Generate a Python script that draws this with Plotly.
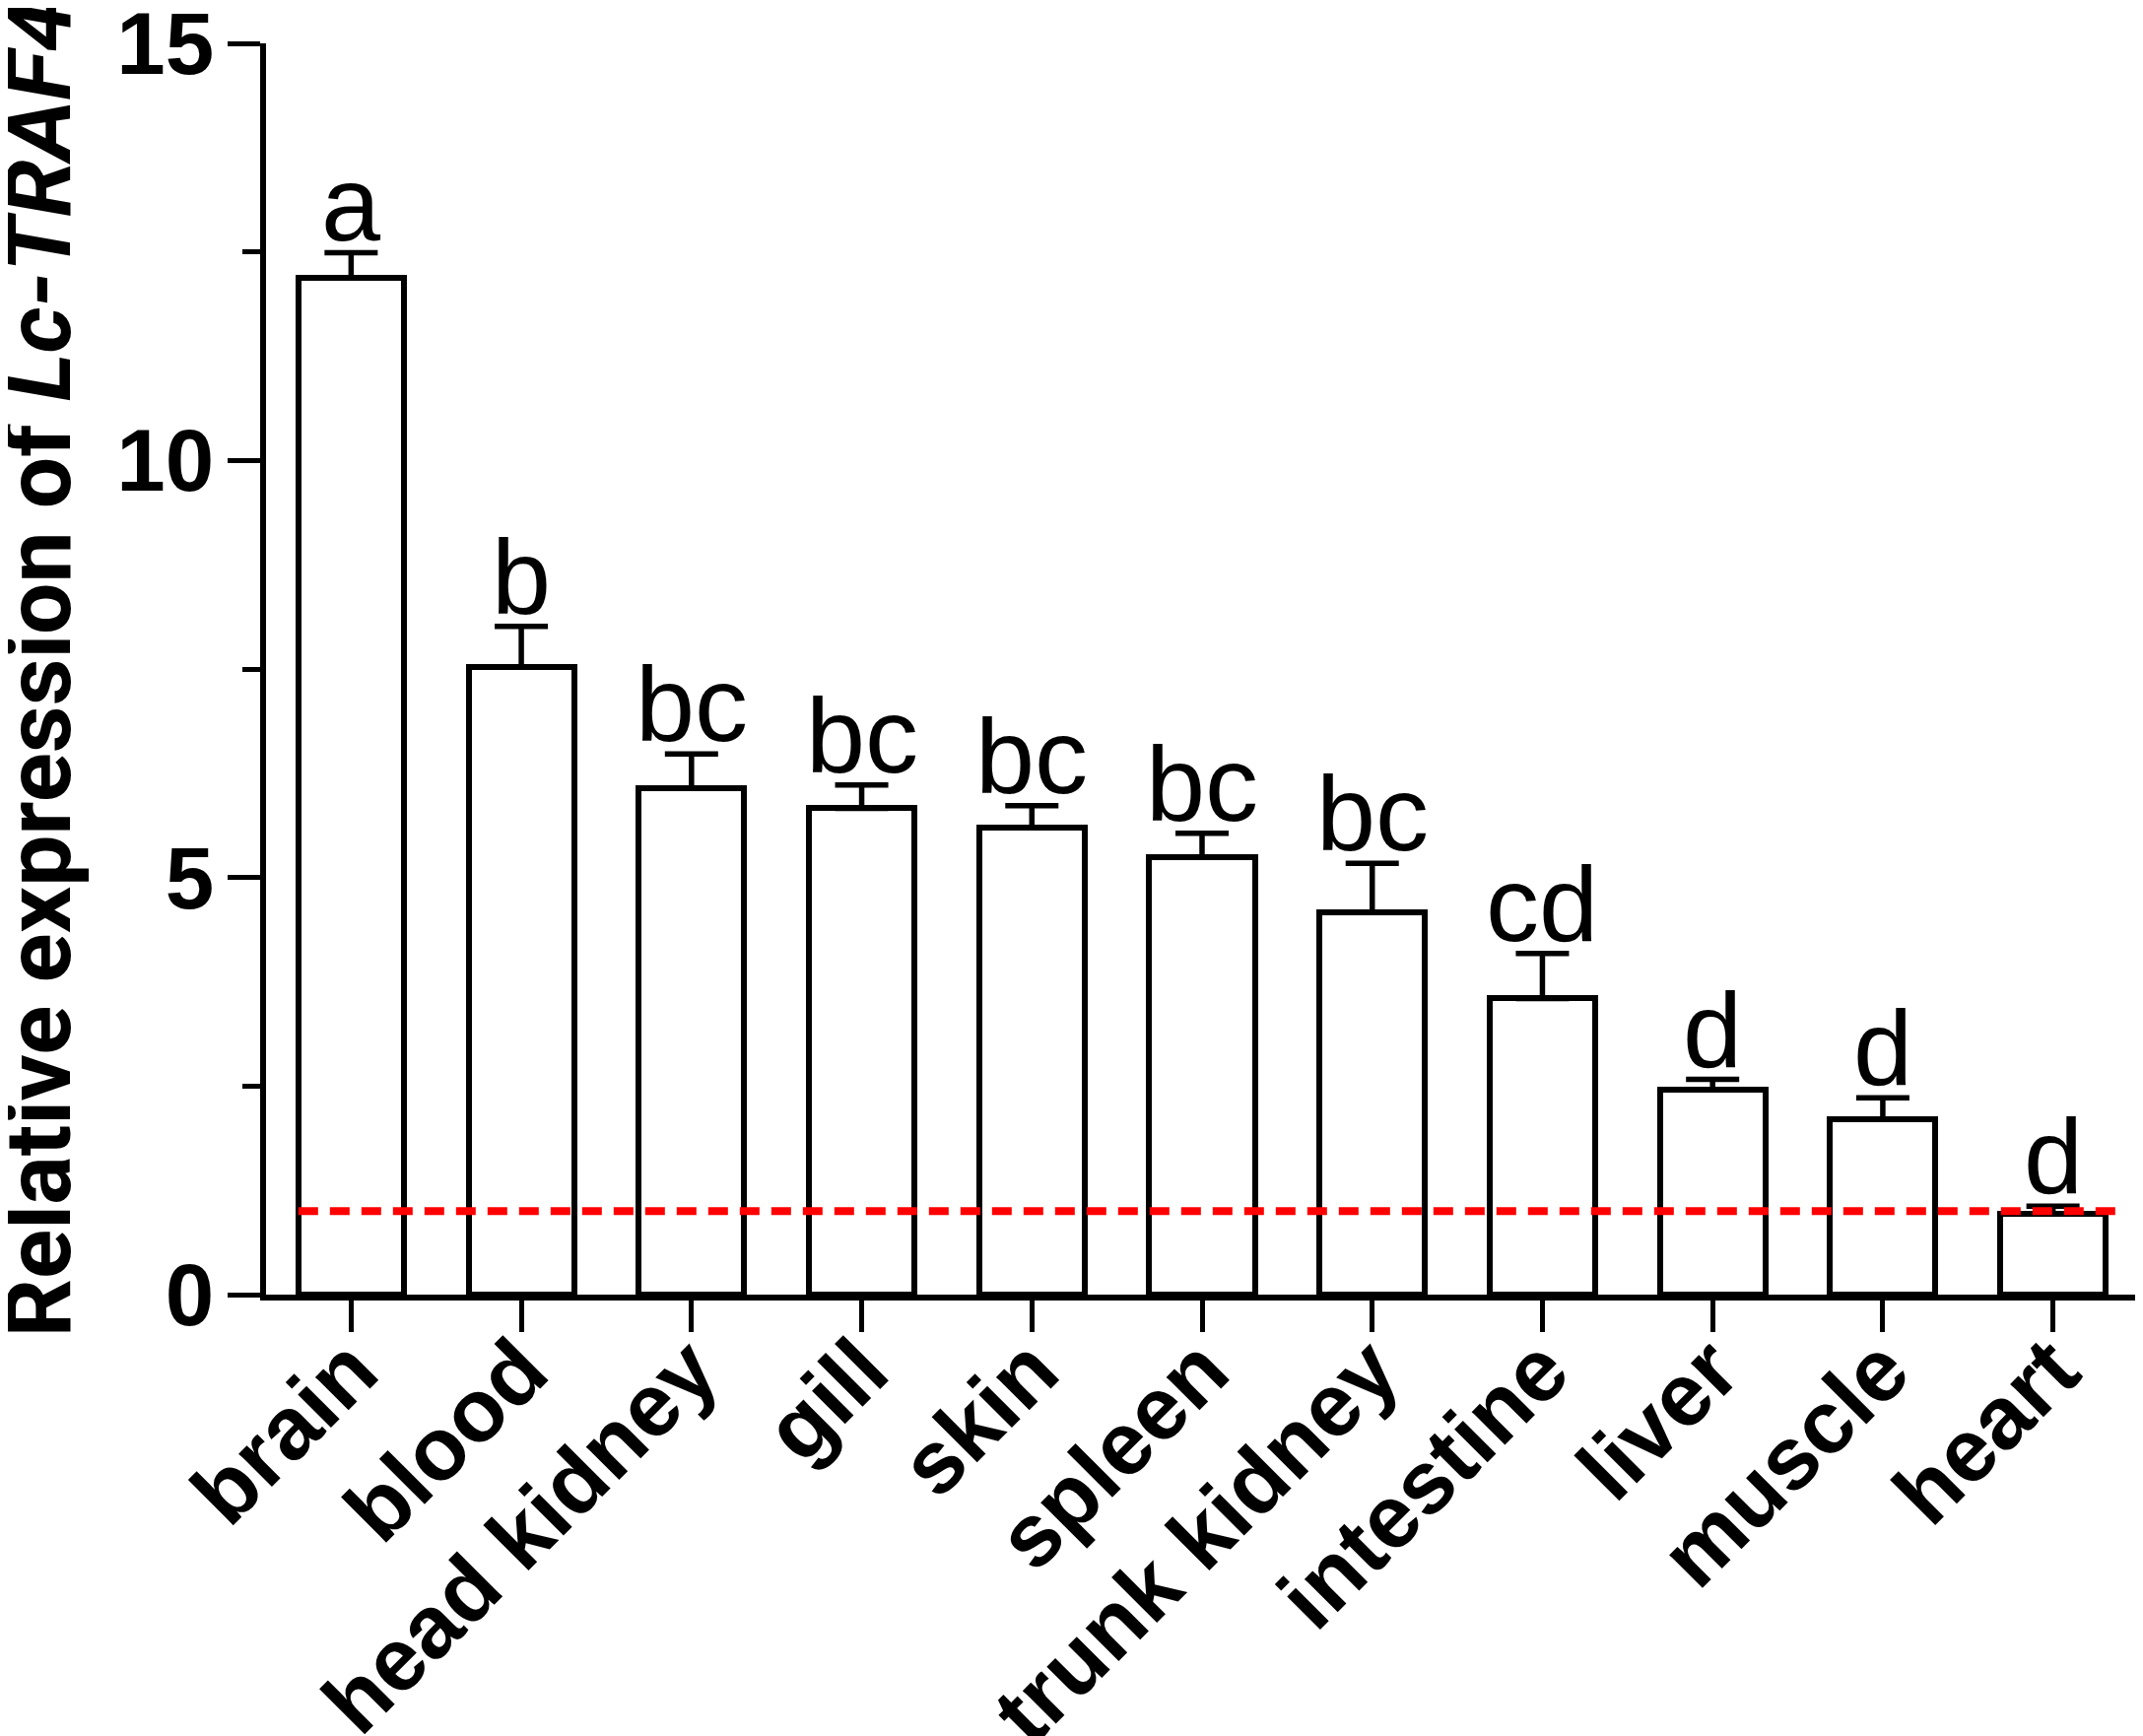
import plotly.graph_objects as go

tissues = ["brain", "blood", "head kidney", "gill", "skin", "spleen",
           "trunk kidney", "intestine", "liver", "muscle", "heart"]
means = [12.19, 7.52, 6.07, 5.83, 5.60, 5.24, 4.58, 3.55, 2.46, 2.10, 0.97]
sems = [0.30, 0.49, 0.41, 0.28, 0.26, 0.29, 0.59, 0.54, 0.12, 0.26, 0.09]
letters = ["a", "b", "bc", "bc", "bc", "bc", "bc", "cd", "d", "d", "d"]
ref_level = 1.0
y_ticks = [0, 5, 10, 15]

W, H = 2175, 1762
ML, MR, MT, MB = 262, 13, 36, 456
pw, ph = W - ML - MR, H - MT - MB

fig = go.Figure()
fig.add_trace(go.Bar(
    x=list(range(len(tissues))), y=means,
    width=0.62,
    marker=dict(color="white", line=dict(color="black", width=6)),
    error_y=dict(type="data", array=sems, arrayminus=[0]*len(sems),
                 color="black", thickness=5.5, width=27),
    showlegend=False,
))

# reference line at 1
fig.add_trace(go.Scatter(
    x=[-0.31, len(tissues) - 1 + 0.37], y=[ref_level, ref_level],
    mode="lines", line=dict(color="#ff0000", width=8, dash="20px,12px"),
    showlegend=False,
))

for i, (m, s, t) in enumerate(zip(means, sems, letters)):
    fig.add_annotation(x=i, y=m + s, text=t, showarrow=False,
                       yanchor="bottom", yshift=-12,
                       font=dict(family="Liberation Sans", size=108, color="black"))

fig.add_annotation(
    text="Relative expression of <i>Lc-TRAF4</i>",
    textangle=-90, showarrow=False,
    xref="paper", yref="paper",
    x=(31 - ML) / pw, y=-(1352 - (H - MB)) / ph,
    xanchor="center", yanchor="bottom",
    font=dict(family="Roboto", size=93, color="black", weight="bold"),
)

fig.update_xaxes(
    range=[-0.5, len(tissues) - 0.5],
    tickvals=list(range(len(tissues))), ticktext=tissues,
    tickangle=-45, automargin=False, ticklabelstandoff=-50,
    showline=True, linecolor="black", linewidth=6,
    ticks="outside", ticklen=32, tickwidth=5, tickcolor="black",
    tickfont=dict(family="Liberation Sans", size=90, color="black", weight="bold"),
    showgrid=False, zeroline=False,
)
fig.update_yaxes(
    range=[0, 15], tickvals=y_ticks, automargin=False,
    ticklabeloverflow="allow", ticklabelstandoff=-4,
    showline=True, linecolor="black", linewidth=6,
    ticks="outside", ticklen=33, tickwidth=5, tickcolor="black",
    minor=dict(dtick=2.5, ticks="outside", ticklen=18, tickwidth=5, tickcolor="black"),
    tickfont=dict(family="Liberation Sans", size=89, color="black", weight="bold"),
    showgrid=False, zeroline=False,
)
fig.update_layout(
    width=W, height=H,
    margin=dict(l=ML, r=MR, t=MT, b=MB, pad=0, autoexpand=False),
    plot_bgcolor="white", paper_bgcolor="white",
    bargap=0,
)
fig.write_html("out.html")
